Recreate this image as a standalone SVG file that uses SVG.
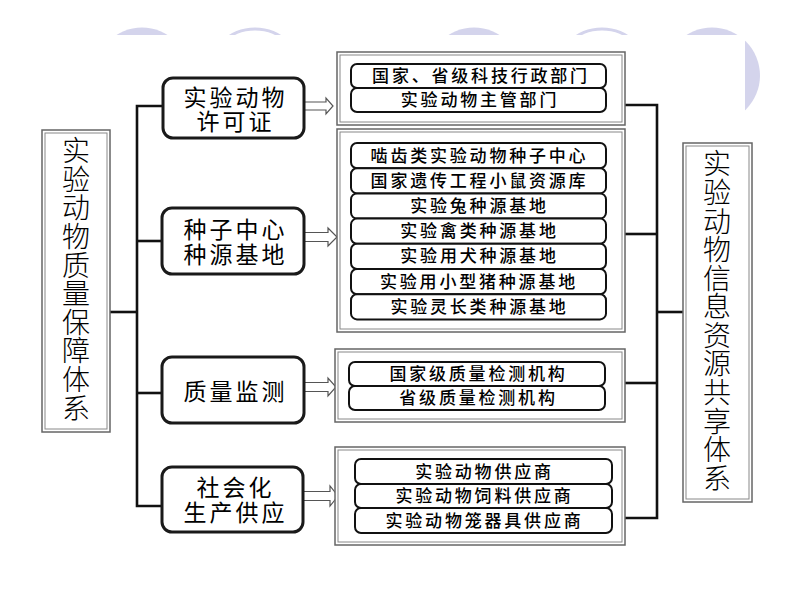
<svg xmlns="http://www.w3.org/2000/svg" width="800" height="600" viewBox="0 0 800 600">
<defs>
<style>
.deco{fill:#d4d4ec}
.ring{fill:none;stroke:#d4d4ec;stroke-width:3}
.bus{fill:none;stroke:#111;stroke-width:2.6;stroke-linejoin:miter}
.fo{fill:#fff;stroke:#666;stroke-width:1.5}
.fi{fill:none;stroke:#888;stroke-width:1}
.cat{fill:#fff;stroke:#1a1a1a;stroke-width:3}
.row{fill:#fff;stroke:#111;stroke-width:2}
.arrow{fill:#fff;stroke:#555;stroke-width:1.2;stroke-linejoin:miter}
text{font-family:"Liberation Serif","Noto Sans CJK SC",serif;fill:#000}
.vt{font-size:28px;font-weight:300;text-anchor:middle;dominant-baseline:central}
.ct{font-size:23px;letter-spacing:3px;text-anchor:middle;dominant-baseline:central}
.rt{font-size:17px;font-weight:500;letter-spacing:2.8px;text-anchor:middle;dominant-baseline:central}
</style>
</defs>
<rect width="800" height="600" fill="#fff"/>
<g id="decoration">
<circle class="deco" cx="142" cy="75.5" r="48"/>
<circle class="ring" cx="255" cy="76" r="47"/>
<circle class="deco" cx="474" cy="75.5" r="48"/>
<circle class="ring" cx="602" cy="76" r="47"/>
<circle class="deco" cx="712" cy="75.5" r="48"/>
<rect x="90" y="35" width="655" height="565" fill="#fff"/>
</g>
<g id="connectors">
<polyline class="bus" points="163,106 137,106 137,506 162,506"/>
<line class="bus" x1="137" y1="241" x2="162" y2="241"/>
<line class="bus" x1="110" y1="312" x2="137" y2="312"/>
<line class="bus" x1="137" y1="393" x2="162" y2="393"/>
<polyline class="bus" points="625,105 657,105 657,518 625,518"/>
<line class="bus" x1="625" y1="234" x2="657" y2="234"/>
<line class="bus" x1="625" y1="383" x2="657" y2="383"/>
<line class="bus" x1="657" y1="312" x2="683" y2="312"/>
<polygon class="arrow" points="304,102 326,102 326,98 333,106 326,114 326,110 304,110"/>
<polygon class="arrow" points="304,232.5 328,232.5 328,228 337,237 328,246 328,241.5 304,241.5"/>
<polygon class="arrow" points="304,382.5 328,382.5 328,378 336,387 328,396 328,391.5 304,391.5"/>
<polygon class="arrow" points="303,491.5 330,491.5 330,486 338,496 330,506 330,500.5 303,500.5"/>
</g>
<g id="quality-system">
<rect class="fo" x="42" y="130" width="68" height="302"/>
<rect class="fi" x="45" y="133" width="62" height="296"/>
<text class="vt"><tspan x="76" y="151">实</tspan><tspan x="76" y="180">验</tspan><tspan x="76" y="208">动</tspan><tspan x="76" y="237">物</tspan><tspan x="76" y="266">质</tspan><tspan x="76" y="294">量</tspan><tspan x="76" y="323">保</tspan><tspan x="76" y="351">障</tspan><tspan x="76" y="380">体</tspan><tspan x="76" y="409">系</tspan></text>
</g>
<g id="info-system">
<rect class="fo" x="683" y="143" width="69" height="359"/>
<rect class="fi" x="686" y="146" width="63" height="353"/>
<text class="vt"><tspan x="717" y="164">实</tspan><tspan x="717" y="193">验</tspan><tspan x="717" y="222">动</tspan><tspan x="717" y="250">物</tspan><tspan x="717" y="279">信</tspan><tspan x="717" y="307">息</tspan><tspan x="717" y="336">资</tspan><tspan x="717" y="364">源</tspan><tspan x="717" y="393">共</tspan><tspan x="717" y="422">享</tspan><tspan x="717" y="450">体</tspan><tspan x="717" y="479">系</tspan></text>
</g>
<g id="license">
<rect class="cat" x="163" y="78" width="141" height="60" rx="10"/>
<text class="ct"><tspan x="235.5" y="98">实验动物</tspan><tspan x="235.5" y="122">许可证</tspan></text>
</g>
<g id="breeding">
<rect class="cat" x="162" y="208" width="142" height="66" rx="10"/>
<text class="ct"><tspan x="235.5" y="230">种子中心</tspan><tspan x="235.5" y="255">种源基地</tspan></text>
</g>
<g id="monitoring">
<rect class="cat" x="162" y="357" width="142" height="66" rx="10"/>
<text class="ct" x="235.5" y="392">质量监测</text>
</g>
<g id="supply">
<rect class="cat" x="162" y="467" width="141" height="65" rx="10"/>
<text class="ct"><tspan x="235.5" y="488">社会化</tspan><tspan x="235.5" y="513">生产供应</tspan></text>
</g>
<g id="license-list">
<rect class="fo" x="337" y="52" width="288" height="73"/>
<rect class="fi" x="340" y="55" width="282" height="67"/>
<rect class="row" x="351" y="64" width="255" height="24" rx="6"/>
<rect class="row" x="351" y="88" width="255" height="24" rx="6"/>
<text class="rt" x="481" y="76.5">国家、省级科技行政部门</text>
<text class="rt" x="480" y="100.5">实验动物主管部门</text>
</g>
<g id="breeding-list">
<rect class="fo" x="337" y="129" width="288" height="203"/>
<rect class="fi" x="340" y="132" width="282" height="197"/>
<rect class="row" x="351" y="143" width="255" height="25.2" rx="6"/>
<rect class="row" x="351" y="168.2" width="255" height="25.2" rx="6"/>
<rect class="row" x="351" y="193.4" width="255" height="25.2" rx="6"/>
<rect class="row" x="351" y="218.6" width="255" height="25.2" rx="6"/>
<rect class="row" x="351" y="243.8" width="255" height="25.2" rx="6"/>
<rect class="row" x="351" y="269" width="255" height="25.2" rx="6"/>
<rect class="row" x="351" y="294.2" width="255" height="25.2" rx="6"/>
<text class="rt" x="479.5" y="156">啮齿类实验动物种子中心</text>
<text class="rt" x="479.5" y="181.2">国家遗传工程小鼠资源库</text>
<text class="rt" x="479.5" y="206.4">实验兔种源基地</text>
<text class="rt" x="479.5" y="231.6">实验禽类种源基地</text>
<text class="rt" x="479.5" y="256.8">实验用犬种源基地</text>
<text class="rt" x="479" y="282">实验用小型猪种源基地</text>
<text class="rt" x="479.5" y="307.2">实验灵长类种源基地</text>
</g>
<g id="monitoring-list">
<rect class="fo" x="335" y="349" width="290" height="73"/>
<rect class="fi" x="338" y="352" width="284" height="67"/>
<rect class="row" x="349" y="362" width="256" height="24" rx="6"/>
<rect class="row" x="349" y="386" width="256" height="24" rx="6"/>
<text class="rt" x="478.5" y="374.5">国家级质量检测机构</text>
<text class="rt" x="478.5" y="398.5">省级质量检测机构</text>
</g>
<g id="supply-list">
<rect class="fo" x="335" y="447" width="290" height="98"/>
<rect class="fi" x="338" y="450" width="284" height="92"/>
<rect class="row" x="355" y="459" width="257" height="25" rx="6"/>
<rect class="row" x="355" y="484" width="257" height="24" rx="6"/>
<rect class="row" x="355" y="508" width="257" height="25" rx="6"/>
<text class="rt" x="484.5" y="472">实验动物供应商</text>
<text class="rt" x="484.5" y="496.5">实验动物饲料供应商</text>
<text class="rt" x="484.5" y="521">实验动物笼器具供应商</text>
</g>
</svg>
